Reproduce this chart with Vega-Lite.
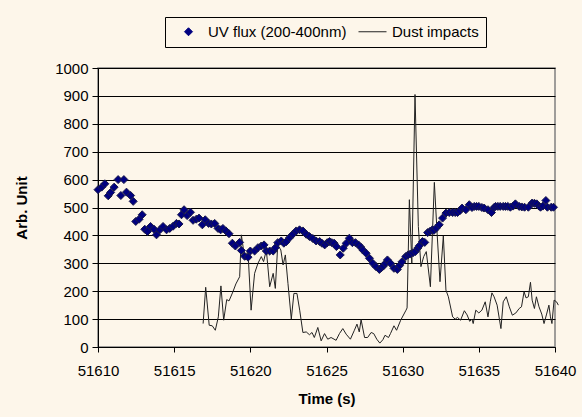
{
"$schema": "https://vega.github.io/schema/vega-lite/v6.json",
"width": 457, "height": 279,
"autosize": {"type": "none"},
"padding": {"left": 98, "top": 68, "right": 27, "bottom": 70},
"background": "#FDF6EA",
"config": {
 "font": "Liberation Sans",
 "view": {"stroke": "#808080", "strokeWidth": 1.5},
 "axis": {"labelFontSize": 15, "labelColor": "#000", "titleFontSize": 15, "titleFontWeight": "bold", "titleColor": "#000", "domainColor": "#000", "tickColor": "#000", "labelFont": "Liberation Sans", "titleFont": "Liberation Sans"}
},
"datasets": {
 "uv": [
  {"t":51610.0,"v":564},{"t":51610.24,"v":573},{"t":51610.45,"v":585},{"t":51610.67,"v":542},{"t":51610.83,"v":554},{"t":51611.06,"v":573},{"t":51611.32,"v":600},{"t":51611.5,"v":543},{"t":51611.7,"v":600},{"t":51611.87,"v":555},{"t":51612.14,"v":543},{"t":51612.31,"v":522},{"t":51612.48,"v":450},{"t":51612.7,"v":458},{"t":51612.9,"v":474},{"t":51613.07,"v":422},{"t":51613.25,"v":414},{"t":51613.45,"v":432},{"t":51613.68,"v":422},{"t":51613.84,"v":402},{"t":51614.06,"v":420},{"t":51614.27,"v":432},{"t":51614.5,"v":420},{"t":51614.71,"v":425},{"t":51614.93,"v":433},{"t":51615.15,"v":443},{"t":51615.32,"v":441},{"t":51615.48,"v":474},{"t":51615.65,"v":492},{"t":51615.85,"v":471},{"t":51616.07,"v":483},{"t":51616.24,"v":454},{"t":51616.45,"v":458},{"t":51616.63,"v":462},{"t":51616.85,"v":438},{"t":51617.04,"v":456},{"t":51617.26,"v":443},{"t":51617.44,"v":441},{"t":51617.66,"v":443},{"t":51617.88,"v":425},{"t":51618.05,"v":420},{"t":51618.2,"v":425},{"t":51618.4,"v":416},{"t":51618.6,"v":406},{"t":51618.82,"v":372},{"t":51619.02,"v":362},{"t":51619.3,"v":375},{"t":51619.41,"v":346},{"t":51619.63,"v":325},{"t":51619.85,"v":322},{"t":51620.0,"v":344},{"t":51620.28,"v":344},{"t":51620.5,"v":356},{"t":51620.72,"v":362},{"t":51620.9,"v":366},{"t":51621.05,"v":344},{"t":51621.27,"v":344},{"t":51621.5,"v":344},{"t":51621.65,"v":356},{"t":51621.8,"v":374},{"t":51622.03,"v":380},{"t":51622.2,"v":372},{"t":51622.35,"v":377},{"t":51622.58,"v":392},{"t":51622.79,"v":404},{"t":51623.01,"v":416},{"t":51623.23,"v":420},{"t":51623.45,"v":416},{"t":51623.67,"v":404},{"t":51623.88,"v":396},{"t":51624.1,"v":389},{"t":51624.32,"v":380},{"t":51624.55,"v":378},{"t":51624.7,"v":372},{"t":51624.88,"v":366},{"t":51625.05,"v":374},{"t":51625.2,"v":378},{"t":51625.35,"v":374},{"t":51625.5,"v":372},{"t":51625.65,"v":360},{"t":51625.9,"v":330},{"t":51626.1,"v":354},{"t":51626.3,"v":372},{"t":51626.5,"v":390},{"t":51626.7,"v":374},{"t":51626.9,"v":374},{"t":51627.1,"v":366},{"t":51627.25,"v":358},{"t":51627.38,"v":348},{"t":51627.6,"v":336},{"t":51627.82,"v":318},{"t":51628.04,"v":300},{"t":51628.25,"v":288},{"t":51628.47,"v":278},{"t":51628.6,"v":284},{"t":51628.73,"v":290},{"t":51628.87,"v":300},{"t":51629.0,"v":312},{"t":51629.2,"v":300},{"t":51629.43,"v":282},{"t":51629.65,"v":278},{"t":51629.8,"v":292},{"t":51629.95,"v":305},{"t":51630.2,"v":324},{"t":51630.35,"v":330},{"t":51630.5,"v":333},{"t":51630.68,"v":338},{"t":51630.83,"v":342},{"t":51631.0,"v":355},{"t":51631.1,"v":363},{"t":51631.3,"v":378},{"t":51631.45,"v":375},{"t":51631.64,"v":410},{"t":51631.8,"v":415},{"t":51631.95,"v":420},{"t":51632.05,"v":418},{"t":51632.2,"v":426},{"t":51632.4,"v":438},{"t":51632.62,"v":462},{"t":51632.84,"v":480},{"t":51633.06,"v":482},{"t":51633.28,"v":482},{"t":51633.45,"v":482},{"t":51633.6,"v":482},{"t":51633.75,"v":488},{"t":51633.9,"v":498},{"t":51634.15,"v":492},{"t":51634.37,"v":510},{"t":51634.55,"v":500},{"t":51634.7,"v":504},{"t":51634.85,"v":504},{"t":51635.0,"v":504},{"t":51635.2,"v":500},{"t":51635.35,"v":498},{"t":51635.6,"v":492},{"t":51635.83,"v":482},{"t":51636.0,"v":500},{"t":51636.1,"v":504},{"t":51636.25,"v":504},{"t":51636.4,"v":504},{"t":51636.6,"v":504},{"t":51636.75,"v":504},{"t":51636.9,"v":504},{"t":51637.07,"v":501},{"t":51637.25,"v":505},{"t":51637.4,"v":513},{"t":51637.65,"v":504},{"t":51637.82,"v":502},{"t":51638.0,"v":501},{"t":51638.25,"v":501},{"t":51638.5,"v":516},{"t":51638.65,"v":515},{"t":51638.8,"v":513},{"t":51638.95,"v":505},{"t":51639.05,"v":501},{"t":51639.2,"v":505},{"t":51639.4,"v":525},{"t":51639.5,"v":501},{"t":51639.75,"v":501},{"t":51639.9,"v":501}
 ],
 "dust": [
  {"t":51616.9,"v":84},{"t":51617.07,"v":214},{"t":51617.3,"v":78},{"t":51617.5,"v":76},{"t":51617.7,"v":60},{"t":51617.9,"v":108},{"t":51618.07,"v":219},{"t":51618.25,"v":96},{"t":51618.45,"v":170},{"t":51618.6,"v":165},{"t":51618.85,"v":197},{"t":51619.05,"v":226},{"t":51619.3,"v":252},{"t":51619.41,"v":402},{"t":51619.55,"v":349},{"t":51619.7,"v":320},{"t":51619.84,"v":348},{"t":51620.05,"v":132},{"t":51620.28,"v":264},{"t":51620.5,"v":300},{"t":51620.72,"v":324},{"t":51620.87,"v":306},{"t":51621.05,"v":348},{"t":51621.27,"v":216},{"t":51621.5,"v":264},{"t":51621.64,"v":210},{"t":51621.8,"v":366},{"t":51622.0,"v":348},{"t":51622.15,"v":294},{"t":51622.3,"v":330},{"t":51622.47,"v":228},{"t":51622.69,"v":100},{"t":51622.86,"v":192},{"t":51623.06,"v":192},{"t":51623.24,"v":132},{"t":51623.45,"v":52},{"t":51623.67,"v":54},{"t":51623.88,"v":44},{"t":51624.05,"v":52},{"t":51624.2,"v":34},{"t":51624.43,"v":70},{"t":51624.65,"v":22},{"t":51624.87,"v":48},{"t":51625.08,"v":28},{"t":51625.3,"v":34},{"t":51625.63,"v":24},{"t":51625.85,"v":48},{"t":51626.07,"v":66},{"t":51626.29,"v":46},{"t":51626.57,"v":28},{"t":51626.83,"v":60},{"t":51627.0,"v":82},{"t":51627.15,"v":54},{"t":51627.27,"v":98},{"t":51627.5,"v":34},{"t":51627.7,"v":34},{"t":51627.93,"v":52},{"t":51628.1,"v":48},{"t":51628.3,"v":28},{"t":51628.5,"v":14},{"t":51628.7,"v":26},{"t":51628.84,"v":42},{"t":51629.07,"v":34},{"t":51629.2,"v":48},{"t":51629.43,"v":76},{"t":51629.6,"v":60},{"t":51629.87,"v":96},{"t":51630.22,"v":132},{"t":51630.29,"v":140},{"t":51630.44,"v":528},{"t":51630.6,"v":300},{"t":51630.81,"v":905},{"t":51631.03,"v":432},{"t":51631.2,"v":288},{"t":51631.38,"v":324},{"t":51631.55,"v":342},{"t":51631.82,"v":216},{"t":51632.08,"v":590},{"t":51632.26,"v":408},{"t":51632.45,"v":234},{"t":51632.67,"v":398},{"t":51632.84,"v":204},{"t":51633.0,"v":180},{"t":51633.28,"v":108},{"t":51633.45,"v":100},{"t":51633.6,"v":106},{"t":51633.8,"v":96},{"t":51634.05,"v":130},{"t":51634.23,"v":115},{"t":51634.4,"v":92},{"t":51634.55,"v":100},{"t":51634.63,"v":84},{"t":51634.8,"v":132},{"t":51635.0,"v":122},{"t":51635.2,"v":132},{"t":51635.42,"v":162},{"t":51635.6,"v":108},{"t":51635.75,"v":162},{"t":51635.86,"v":194},{"t":51636.0,"v":180},{"t":51636.2,"v":150},{"t":51636.45,"v":66},{"t":51636.6,"v":162},{"t":51636.8,"v":180},{"t":51637.0,"v":144},{"t":51637.2,"v":114},{"t":51637.43,"v":122},{"t":51637.65,"v":138},{"t":51637.8,"v":144},{"t":51637.97,"v":198},{"t":51638.1,"v":176},{"t":51638.25,"v":180},{"t":51638.39,"v":232},{"t":51638.5,"v":168},{"t":51638.65,"v":138},{"t":51638.78,"v":180},{"t":51638.95,"v":144},{"t":51639.13,"v":118},{"t":51639.28,"v":84},{"t":51639.45,"v":118},{"t":51639.6,"v":150},{"t":51639.7,"v":108},{"t":51639.8,"v":84},{"t":51639.94,"v":168},{"t":51640.1,"v":162},{"t":51640.22,"v":150}
 ]
},
"encoding": {
 "x": {"field": "t", "type": "quantitative", "scale": {"domain": [51610, 51640], "nice": false, "zero": false},
  "axis": {"title": "Time (s)", "values": [51610, 51615, 51620, 51625, 51630, 51635, 51640], "format": "d", "grid": false, "tickSize": 5, "labelPadding": 11, "titlePadding": 13, "labelFlush": false}},
 "y": {"field": "v", "type": "quantitative", "scale": {"domain": [0, 1000], "nice": false},
  "axis": {"title": "Arb. Unit", "values": [0,100,200,300,400,500,600,700,800,900,1000], "format": "d", "grid": true, "gridColor": "#000", "gridOpacity": 1, "gridWidth": 1, "tickSize": 6, "labelPadding": 4, "titlePadding": 25}}
},
"layer": [
 {"data": {"name": "dust"},
  "mark": {"type": "line", "strokeWidth": 1, "clip": false},
  "encoding": {"color": {"datum": "Dust impacts", "type": "nominal",
    "scale": {"domain": ["UV flux (200-400nm)", "Dust impacts"], "range": ["#000080", "#222222"]},
    "legend": {"title": null, "orient": "none", "legendX": 67, "legendY": -51, "direction": "horizontal",
      "labelFontSize": 15, "labelFont": "Liberation Sans", "labelColor": "#000", "padding": 7, "strokeColor": "#000", "fillColor": "#FDF6EA",
      "columnPadding": 9, "labelOffset": 12, "symbolOffset": 9,
      "encode": {"symbols": {"update": {
         "size": {"signal": "datum.value === 'Dust impacts' ? 784 : 64"},
         "stroke": {"signal": "datum.value === 'Dust impacts' ? '#222222' : '#1a1a4a'"},
         "fill": {"signal": "datum.value === 'Dust impacts' ? 'transparent' : '#000080'"},
         "strokeWidth": {"value": 1},
         "shape": {"signal": "datum.value === 'Dust impacts' ? 'stroke' : 'diamond'"},
         "opacity": {"value": 1}}}}}}}},
 {"data": {"name": "uv"},
  "mark": {"type": "point", "shape": "diamond", "filled": true, "size": 64, "opacity": 1, "stroke": "#1a1a4a", "strokeWidth": 1},
  "encoding": {"color": {"datum": "UV flux (200-400nm)", "type": "nominal"}}}
]
}
